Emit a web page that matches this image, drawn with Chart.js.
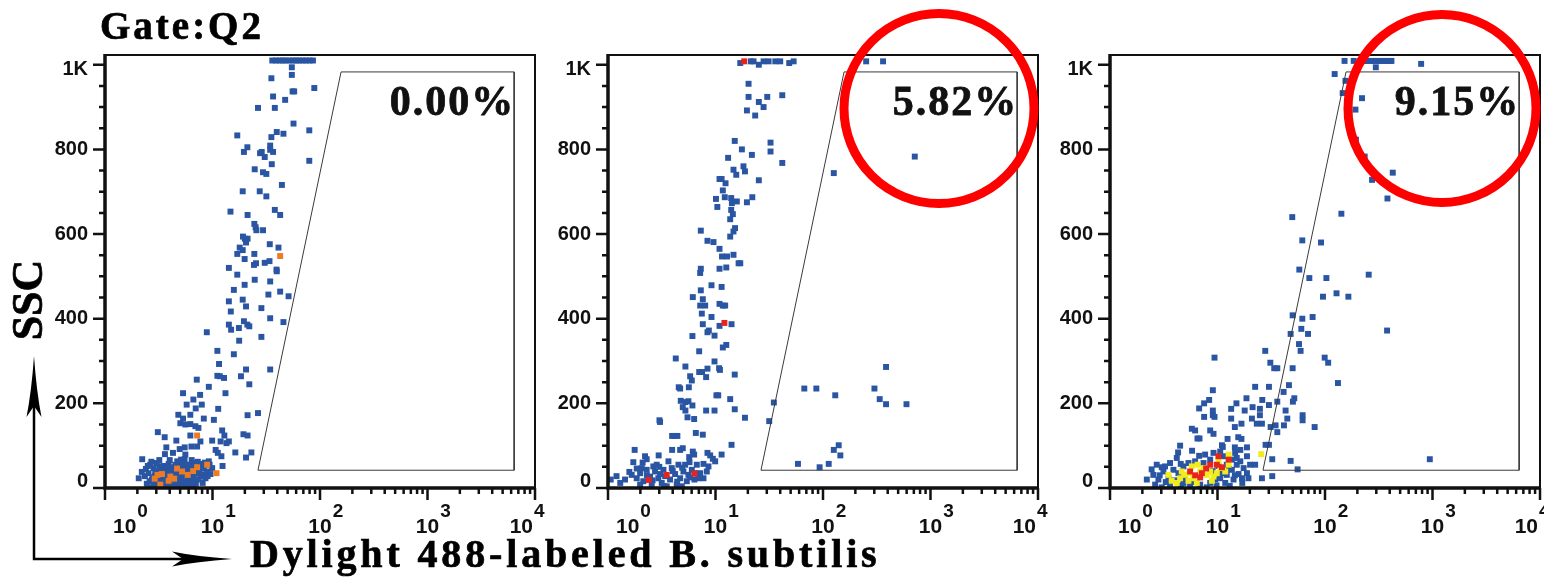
<!DOCTYPE html>
<html>
<head>
<meta charset="utf-8">
<script src="https://cdn.jsdelivr.net/npm/chart.js@4.4.0/dist/chart.umd.min.js"></script>
<style>
html, body { margin: 0; padding: 0; background: #fff; overflow: hidden; }
#wrap { position: relative; width: 1544px; height: 578px; overflow: hidden; }
canvas { position: absolute; top: 0; }
svg { position: absolute; left: 0; top: 0; }
</style>
</head>
<body>
<div id="wrap">
  <canvas id="c1" width="550" height="578" style="left:5px"></canvas>
  <canvas id="c2" width="550" height="578" style="left:508px"></canvas>
  <canvas id="c3" width="550" height="578" style="left:1010px"></canvas>
  <svg width="1544" height="578" font-family="'Liberation Serif', 'Times New Roman', serif" font-weight="bold">
    <g stroke="#000" stroke-width="0.7">
      <text x="100" y="39" font-size="39" letter-spacing="3">Gate:Q2</text>
      <text transform="translate(42,300) rotate(-90)" text-anchor="middle" font-size="44">SSC</text>
      <text x="250" y="567" font-size="40" letter-spacing="3.85">Dylight 488-labeled B. subtilis</text>
    </g>
    <path d="M34,559 V404 M32.8,559 H186" stroke="#000" stroke-width="2.5" fill="none"/>
    <path d="M34,356 Q36.5,392 41.5,417 L34,406 L26.5,417 Q31.5,392 34,356 Z" fill="#000"/>
    <path d="M232,559 Q196,556.5 172,551.5 L183,559 L172,566.5 Q196,561.5 232,559 Z" fill="#000"/>
    <circle cx="939" cy="108.5" r="95" fill="none" stroke="#ff0000" stroke-width="9"/>
    <circle cx="1442" cy="108.5" r="94" fill="none" stroke="#ff0000" stroke-width="9"/>
  </svg>
</div>
<script>
// axis ticks
const xTicks = [1, 10, 100, 1000, 10000];
const xTickExp = ['0', '1', '2', '3', '4'];
const yTicks = [0, 200, 400, 600, 800, 1000];
const yTickLabels = ['0', '200', '400', '600', '800', '1K'];
const yMinorStep = 50;

// gate (FL1, SSC) and percentages
const gatePoints = [[26.5, 42], [157, 983], [6400, 983], [6400, 42], [26.5, 42]];
const percents = ['0.00%', '5.82%', '9.15%'];

// panel 1 events [FL1, SSC]
const p1Blue = [
  [36,1010],[39,1010],[42,1010],[45,1010],[48,1010],[52,1010],[56,1010],[60,1010],[64,1010],[69,1010],[74,1010],[80,1010],[86,1010],
  [54.7,994],[54.7,976],[35.3,968],[88.5,945],[55.6,937],[57.5,937],[36.6,925],[47.4,917],[26.5,898],[38,898],[56.7,861],
  [79.5,845],[17,833],[39.6,841],[45.7,837],[35.3,829],[21.1,805],[19.6,794],[27.7,791],[28.7,794],[30.6,782],[34.4,809],
  [34.4,799],[36.6,794],[79.5,773],[35.6,765],[24.7,753],[29.5,746],[31.7,742],[44.2,716],[19.1,701],[27.5,701],[31.7,689],
  [14.7,653],[21.2,645],[38,657],[42.6,645],[24.5,624],[25.2,616],[25.6,609],[29.5,609],[19.2,594],[20,589],[21.2,589],
  [20.5,580],[17.9,568],[19.1,562],[17,553],[24.5,553],[34.1,576],[41.1,568],[19.9,541],[25.4,531],[24.3,527],[30.6,532],
  [33.9,536],[14.2,520],[39.4,516],
  [17,504],[24.7,492],[34.4,488],[19.9,480],[39.6,512],[15.8,468],[42.6,464],[51,453],[33.1,457],[14.2,441],[19.1,445],
  [20.5,429],[28.5,425],[14.8,417],[34.4,401],[45.7,392],[14.2,386],[14.9,374],[17.6,378],[19.6,394],[21.1,386],[22,382],
  [17.7,348],[28.5,357],[8.85,368],[11.1,324],[15.8,316],[11.5,293],[20.5,280],[34.4,280],[11.1,265],[11.7,264],[12.8,260],
  [18.4,264],[7.14,256],[22,245],[9.24,239],[5.32,224],[13.2,224],[7.67,220],[6.64,209],[5.75,197],[6.98,188],[7.95,197],
  [11.3,187],[21.2,172],[26.5,177],[4.81,173],[5.32,164],[6.22,173],[5.02,153],[5.59,150],[6.22,151],[6.93,146],[7.4,142],
  [8.3,164],[10.3,161],[3.1,132],[3.59,120],[4.61,112],[6.22,124],[7.72,110],[7.19,98],[6.37,98],[5.51,96],[9.93,112],
  [11.9,110],[12.3,136],[12.9,124],[13.5,106],[14.2,110],[10.7,90],[11.2,83],[12.1,75],[12.4,52],[16.3,84],[19.4,127],
  [21.2,124],[20.5,72],[23,84],[3.72,96],[4.29,83],[4.95,92],[5.59,79],[3.61,80],[2.22,68],[2.06,23],
  [2.63,55],[2.83,47],[3.04,59],[3.39,51],[3.64,43],[3.91,57],[4.2,49],[4.51,55],[5.02,47],[5.59,55],[6.01,46],[6.45,59],
  [6.93,39],[7.72,57],[8.3,46],[9.24,63],[9.93,47],[2.54,35],[2.79,25],[3.15,20],[3.51,23],[3.77,35],[4.35,31],[4.84,20],
  [5.4,30],[5.88,23],[6.22,35],[6.69,16],[7.72,27],[8.6,23],[9.58,33],[2.6,16],[2.83,8],[3.15,4],[3.64,8],[4.05,12],
  [4.51,6],[5.02,9],[5.59,16],[2.54,1.5],[3.39,1.5],[4.68,1.5],[2.93,39],[3.27,31],[5.21,59],[7.19,35],[8.91,39],[3.99,43],
  [2.73,20],[6.22,55],[2.4,45],[2.9,28],[3.3,12],[3.45,38],[3.7,28],[4.1,22],[4.4,40],[4.6,15],[4.9,35],[5.1,25],[5.3,45],
  [5.7,38],[5.8,8],[6.1,28],[6.5,22],[6.8,48],[7,10],[7.5,42],[8,32],[8.1,12],[2.7,62],[3.2,66],[4,66],[4.7,63],[5.5,68],
  [6.4,66],[7.3,62],[2.45,10],[3,6],[3.9,3],[4.3,2],[5.3,3],[5,18],[4.2,30],[3.5,52],[6,12],
  [2.35,28],[2.5,52],[2.95,14],[3.6,15],[4.5,26],[4.75,45],[5.9,52],[6.3,42],[6.7,30],[7.9,48],[8.5,60],[9.4,55],[9,28],
  [3.2,45],[3.8,48],[4.9,57],[6.6,8],[7.4,20],[2.2,38],[5.1,67],[3.6,37]
];
const p1Orange = [
  [42.6,548],[7.19,124],[3.08,31],[3.39,33],[4.05,27],[4.68,46],[5.21,39],[7.19,49],[8.91,55],[10.9,35],[3.91,17],
  [3.27,8],[5.88,31],[2.9,22],[4.4,22],[6.6,40]
];

// panel 2 events
const p2Blue = [
  [17,1004],[21.3,1008],[22.6,1008],[25.3,1000],[28,1008],[31.2,1008],[36,1008],[40,1008],[48.5,1004],[53.3,1008],[252,1008],[362,1008],
  [20.3,955],[20.3,924],[25.3,912],[28,900],[30.3,924],[41.8,928],[19.6,892],[23.4,880],[15.1,820],[17.6,800],[32.5,816],
  [32.5,795],[21.8,787],[13.1,780],[41.8,768],[14.7,752],[15.6,740],[18.2,760],[18.8,748],[25.3,727],[10.9,730],[11.4,730],
  [12.4,720],[11.7,703],[10.1,683],[10.4,664],[12.2,687],[14,685],[14.2,673],[15.8,677],[19.6,675],[22,687],[14,657],
  [14.5,647],[13.7,635],[15.2,614],[14.7,606],[13.7,594],[7.3,608],[8.42,584],[9.58,581],[10.9,565],[11.5,547],[12.8,547],
  [14.7,551],[16.4,531],[17,531],[7.3,518],[10.9,518],[12.6,521],[714,783],[126,744],
  [7.2,508],[9.18,479],[11.4,475],[7.3,467],[6.15,451],[7.62,446],[7.2,431],[8.02,431],[7.46,412],[10.9,435],[11.7,431],
  [12.3,431],[9.18,404],[10.9,383],[14.1,387],[7.62,387],[8.67,372],[8.42,368],[9.79,360],[6.1,359],[11.7,332],[12.6,338],
  [7.05,323],[4.27,306],[9.79,299],[10.8,283],[11,279],[5.25,287],[7.05,274],[7.51,274],[8.42,282],[15.1,268],[5.81,264],
  [6.02,254],[8.18,262],[4.55,238],[4.69,235],[5.65,238],[10.2,219],[10.6,219],[4.75,206],[5.25,203],[5.6,205],[6.1,195],
  [4.96,191],[5.25,183],[8.18,183],[9.79,183],[13.7,210],[15.1,186],[5.49,167],[6.33,163],[18.8,166],[31.6,158],[34.9,202],
  [3.01,160],[3.05,156],[6.56,130],[7.62,126],[3.95,123],[4.18,123],[4.42,123],[14.1,102],[3.95,90],[4.69,90],[4.96,94],
  [1.77,90],[2.21,75],[2.29,68],[2.96,77],[1.72,61],[2.06,47],[2.64,51],[1.58,38],[1.44,20],[1.06,20],[6.15,86],[5.69,73],
  [6.33,79],[8.42,83],[8.92,77],[9.45,69],[9.93,63],[11.4,79],[7.73,57],[8.6,51],
  [67,235],[86.7,235],[130,219],[301,235],[386,286],[337,210],[386,198],[598,198],[126,90],[140,101],[145,77],[58.5,57],[93,49],[113,57],
  [1.66,31],[1.85,23],[1.99,35],[2.13,16],[2.46,27],[2.74,39],[2.94,23],[3.16,12],[3.28,43],[3.78,20],[3.92,47],[4.21,33],
  [4.52,55],[4.69,23],[5.03,39],[5.22,55],[5.41,16],[5.6,31],[6.02,43],[6.7,55],[6.95,23],[7.2,35],[2.55,8],[3.52,4],
  [4.36,8],[1.99,8],[2.84,55],[2.29,43],[3.65,63],[5.73,61],[6.37,20],[3.05,33],[4.86,4],[1.85,46],[8.3,39],[7.73,23],
  [2.3,30],[2.6,18],[3,50],[3.4,28],[4,40],[4.4,15],[4.9,48],[5.8,25],[6.5,35],[3.3,5],[2.1,60],[1.3,12],[1.2,28]
];
const p2Red = [[18.5,1008],[12.1,390],[6.37,34],[3.52,31],[2.39,19]];

// panel 3 events
const p3Blue = [
  [213,1009],[225,1009],[240,1009],[255,1009],[270,1009],[290,1009],[310,1009],[330,1009],[350,1009],[375,1009],[400,1009],[415,1009],
  [152,1009],[185,1009],[784,1002],[297,994],[123,978],[155,962],[146,933],[221,921],[192,894],[194,823],[234,783],[274,728],
  [427,745],[381,684],[142,648],[49.6,640],[61.5,585],[91.8,580],[57.7,516],
  [71.5,496],[103,496],[255,504],[95.8,452],[128,460],[165,452],[50,408],[61.5,400],[76.7,404],[47.9,364],[60.2,376],
  [69.5,364],[378,372],[57.3,340],[59.3,324],[27.8,324],[9.38,308],[99.3,308],[107,296],[31,296],[33.7,283],[36,283],
  [50,283],[132,248],[22.4,239],[30.1,239],[46.2,243],[9.05,231],[41.2,227],[8.36,208],[7.51,200],[15,200],[18.6,212],
  [26.1,208],[30.1,196],[36,204],[51.8,212],[50.3,204],[6.75,188],[9.05,183],[9.05,172],[13.4,187],[17.9,183],[21.2,191],
  [24.8,187],[24.8,172],[43,183],[7.51,168],[9.38,168],[13.4,164],[16.7,152],[20.9,164],[23.2,152],[25.9,152],[44.6,164],
  [61.9,172],[61.9,160],[80.1,144],[31.2,144],[34.7,148],[36,132],[41.5,148],[14.5,144],[5.77,140],[6.19,136],[8.55,136],
  [9.18,128],[6.51,117],[6.8,117],[15.6,120],[16.7,116],[12.4,116],[28,102],[30.1,102],[4.49,100],[4.3,84],[5.8,88],
  [11,101],[11.2,97],[14.5,96],[18.8,96],[22.4,55],[25.9,23],[32.3,68],[32.3,28],[47.9,64],[55.6,44],[944,68],[2.44,44],
  [3.03,49],[4.55,57],[6.75,76],
  [2.53,31],[2.82,20],[3.14,39],[3.5,23],[3.89,43],[4.33,35],[2.63,8],[3.03,1.5],[3.62,8],[4.82,12],[5.56,4],[6.9,8],
  [7.95,1.5],[8.55,12],[9.51,20],[10.6,23],[12.2,31],[13.6,43],[15.1,55],[16.3,63],[17.5,47],[18.8,35],[16.9,23],[14.1,20],
  [11.8,12],[15.1,71],[13.6,67],[11.4,75],[8.55,67],[7.41,59],[6.19,63],[5.37,59],[4.82,51],[10.6,86],[9.18,83],[16.3,90],
  [18.8,75],[20.1,55],[7.67,79],[12.2,55],[15.7,33],[19.4,23],[3.62,59],[4.18,71],[2.72,55],[3.25,51],[5,23],[14.6,83],
  [2.9,30],[3.3,14],[4,18],[5.9,14],[9,40],[10.2,52],[11,35],[12.8,45],[14.5,30],[17,12],[13,5],[9.8,6],[4.6,6],[2.2,20]
];
const p3Yellow = [
  [3.5,31],[3.75,17],[4.18,12],[4.65,39],[5,31],[5.37,17],[5.98,23],[6.42,12],[6.9,39],[7.95,31],[8.55,39],[9.18,27],
  [9.86,35],[10.6,47],[11.8,39],[12.7,55],[5.77,51],[7.41,47],[4.49,23],[10.2,63],[5.48,35],[6.51,55],[8.86,17],[12.7,79],[25.5,80]
];
const p3Red = [[5.56,39],[6.19,30],[6.9,25],[7.84,46],[9.86,55],[11,49],[12.7,67],[7.15,35],[8.55,55],[10.2,75]];

const BLUE = '#2a55a3';
const ORANGE = '#ec7b24';
const RED = '#e8231d';
const YELLOW = '#f1ec1e';

const flowFrame = {
  id: 'flowFrame',
  afterDatasetsDraw(chart, args, opts) {
    const { ctx, chartArea: a, scales: { x, y } } = chart;
    ctx.save();
    ctx.strokeStyle = '#111';
    ctx.fillStyle = '#111';

    // box + heavy axes
    ctx.lineWidth = 2;
    ctx.strokeRect(a.left, a.top, a.right - a.left, a.bottom - a.top);
    ctx.lineWidth = 3.5;
    ctx.beginPath();
    ctx.moveTo(a.left, a.top - 1);
    ctx.lineTo(a.left, a.bottom);
    ctx.lineTo(a.right + 1, a.bottom);
    ctx.stroke();

    // y ticks
    ctx.lineWidth = 2.5;
    ctx.beginPath();
    for (let v = 0; v <= yTicks[yTicks.length - 1]; v += yMinorStep) {
      const py = y.getPixelForValue(v);
      const len = yTicks.includes(v) ? 12 : 6;
      ctx.moveTo(a.left - len, py);
      ctx.lineTo(a.left, py);
    }
    // x ticks
    xTicks.forEach((d, i) => {
      const px = x.getPixelForValue(d);
      ctx.moveTo(px, a.bottom);
      ctx.lineTo(px, a.bottom + 12);
      if (i < xTicks.length - 1) {
        for (let m = 2; m <= 9; m++) {
          const mx = x.getPixelForValue(m * d);
          ctx.moveTo(mx, a.bottom);
          ctx.lineTo(mx, a.bottom + 6);
        }
      }
    });
    ctx.stroke();

    // y labels
    ctx.font = 'bold 20px "Liberation Sans", Arial, sans-serif';
    ctx.textAlign = 'right';
    ctx.textBaseline = 'middle';
    yTicks.forEach((v, i) => {
      let py = y.getPixelForValue(v);
      if (i === 0) py -= 7;
      if (i === yTicks.length - 1) py += 5;
      ctx.fillText(yTickLabels[i], a.left - 17, py);
    });

    // x labels 10^n
    ctx.textAlign = 'left';
    ctx.textBaseline = 'alphabetic';
    xTicks.forEach((d, i) => {
      const px = x.getPixelForValue(d);
      ctx.font = 'bold 21px "Liberation Sans", Arial, sans-serif';
      const w = ctx.measureText('10').width;
      let left = px - w / 2;
      if (i === 0) left = px + 8;
      if (i === xTicks.length - 1) left = px - w - 2;
      ctx.fillText('10', left, a.bottom + 45);
      ctx.font = 'bold 19px "Liberation Sans", Arial, sans-serif';
      ctx.fillText(xTickExp[i], left + w + 1, a.bottom + 29);
    });

    // gate percentage
    ctx.font = 'bold 42px "Liberation Serif", "Times New Roman", serif';
    ctx.letterSpacing = '2px';
    ctx.textAlign = 'right';
    ctx.lineWidth = 0.8;
    const tx = x.getPixelForValue(gatePoints[2][0]) + 1;
    ctx.fillText(opts.pct, tx, 115);
    ctx.strokeText(opts.pct, tx, 115);
    ctx.restore();
  }
};

function events(pts, color) {
  return {
    data: pts.map(p => ({ x: p[0], y: p[1] })),
    backgroundColor: color,
    borderWidth: 0,
    pointStyle: 'rect',
    pointRadius: 4.2,
    pointHoverRadius: 4.2
  };
}

function makeChart(id, sets, pct) {
  const gate = {
    type: 'line',
    data: gatePoints.map(p => ({ x: p[0], y: p[1] })),
    showLine: true,
    borderColor: '#3a3a3a',
    borderWidth: 1,
    pointRadius: 0,
    fill: false,
    tension: 0
  };
  return new Chart(document.getElementById(id), {
    type: 'scatter',
    data: { datasets: [gate, ...sets.map(s => events(s[0], s[1]))] },
    options: {
      responsive: false,
      animation: false,
      events: [],
      layout: { padding: { left: 100, right: 20, top: 55, bottom: 90 } },
      scales: {
        x: { type: 'logarithmic', min: 1, max: 10000, display: false },
        y: { type: 'linear', min: 0, max: 1023, display: false }
      },
      plugins: {
        legend: { display: false },
        tooltip: { enabled: false },
        flowFrame: { pct: pct }
      }
    },
    plugins: [flowFrame]
  });
}

makeChart('c1', [[p1Orange, ORANGE], [p1Blue, BLUE]], percents[0]);
makeChart('c2', [[p2Red, RED], [p2Blue, BLUE]], percents[1]);
makeChart('c3', [[p3Red, RED], [p3Yellow, YELLOW], [p3Blue, BLUE]], percents[2]);
</script>
</body>
</html>
